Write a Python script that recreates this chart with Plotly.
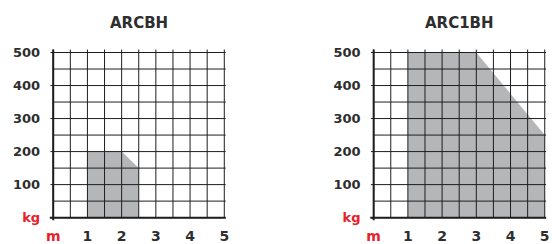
import plotly.graph_objects as go

# ---- data ----
titles = ["ARCBH", "ARC1BH"]
left_x = [1, 1, 2, 2.5, 2.5]
left_y = [0, 200, 200, 150, 0]
right_x = [1, 1, 3, 5, 5]
right_y = [0, 500, 500, 250, 0]
x_ticks = [0, 1, 2, 3, 4, 5]
x_ticktext = ["<span style='color:#e8202a'>m</span>", "1", "2", "3", "4", "5"]
y_ticks = [0, 100, 200, 300, 400, 500]
y_ticktext = ["<span style='color:#e8202a'>kg</span>", "100", "200", "300", "400", "500"]
x_grid = [i * 0.5 for i in range(11)]
y_grid = [i * 50 for i in range(11)]

W, H = 552, 244
PX_X = 34.4   # px per metre
PX_Y = 0.34   # px per kg
XR = [-0.15, 5.1]
YR = [-12, 515]
FILL = "#b5b6b8"
GRID = "#1e1e1e"
TXT = "#2e2e2e"
FONT = "DejaVu Sans"

fig = go.Figure()

def add_panel(idx, px0, xs, ys):
    xa = "x" if idx == 0 else "x2"
    ya = "y" if idx == 0 else "y2"
    base = 222
    fig.add_trace(go.Scatter(x=xs + [xs[0]], y=ys + [ys[0]], mode="lines", fill="toself",
                             fillcolor=FILL, line=dict(width=0, color=FILL),
                             xaxis=xa, yaxis=ya, hoverinfo="skip", showlegend=False))
    gx, gy = [], []
    for v in x_grid:
        gx += [v, v, None]
        gy += [0, 509, None]
    for v in y_grid:
        x0 = -0.08 if v % 100 == 0 else 0
        gx += [x0, 5.04, None]
        gy += [v, v, None]
    fig.add_trace(go.Scatter(x=gx, y=gy, mode="lines", line=dict(color=GRID, width=1),
                             xaxis=xa, yaxis=ya, hoverinfo="skip", showlegend=False))
    fig.add_trace(go.Scatter(x=[0, 0, None, -0.1, 5.04], y=[509, -8, None, 0, 0], mode="lines",
                             line=dict(color=GRID, width=2),
                             xaxis=xa, yaxis=ya, hoverinfo="skip", showlegend=False))
    x_lo = (px0 + XR[0] * PX_X) / W
    x_hi = (px0 + XR[1] * PX_X) / W
    y_bot_px = base - YR[0] * PX_Y
    y_top_px = base - YR[1] * PX_Y
    y_lo = (H - y_bot_px) / H
    y_hi = (H - y_top_px) / H
    xkey = "xaxis" if idx == 0 else "xaxis2"
    ykey = "yaxis" if idx == 0 else "yaxis2"
    fig.update_layout(**{
        xkey: dict(domain=[x_lo, x_hi], range=XR, showgrid=False, zeroline=False, showline=False,
                   tickvals=x_ticks, ticktext=x_ticktext, ticks="", ticklabelstandoff=4,
                   tickfont=dict(size=14, color=TXT, family=FONT, weight="bold"), fixedrange=True,
                   anchor=ya),
        ykey: dict(domain=[y_lo, y_hi], range=YR, showgrid=False, zeroline=False, showline=False,
                   tickvals=y_ticks, ticktext=y_ticktext, ticks="", ticklabelstandoff=7,
                   tickfont=dict(size=13, color=TXT, family=FONT, weight="bold"), fixedrange=True,
                   anchor=xa),
    })
    fig.add_annotation(text=titles[idx], x=(px0 + 2.5 * PX_X) / W, y=(H - 22) / H,
                       xref="paper", yref="paper", showarrow=False, xanchor="center", yanchor="middle",
                       font=dict(size=15, color=TXT, family=FONT, weight="bold"))

add_panel(0, 51.5, left_x, left_y)
add_panel(1, 373.7, right_x, right_y)

fig.update_layout(width=W, height=H, margin=dict(l=0, r=0, t=0, b=0),
                  paper_bgcolor="white", plot_bgcolor="white", showlegend=False)

fig.write_html("out.html", config={"displayModeBar": False},
               post_script="document.body.style.margin='0';document.body.style.overflow='hidden';")
